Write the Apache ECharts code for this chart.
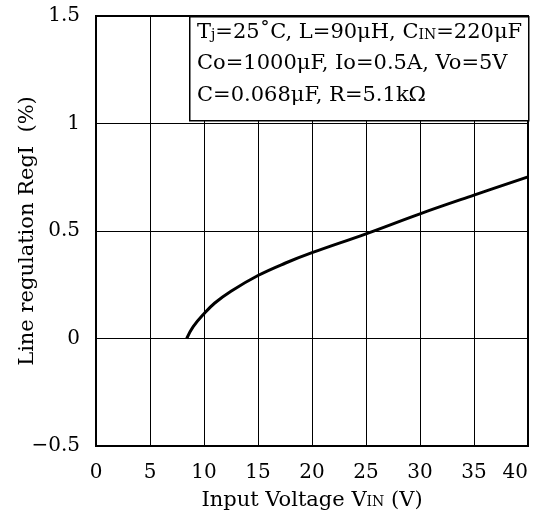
<!DOCTYPE html>
<html><head><meta charset="utf-8">
<script src="https://cdn.jsdelivr.net/npm/echarts@6/dist/echarts.min.js"></script>
<style>html,body{margin:0;padding:0;background:#fff}#c{width:539px;height:519px}</style>
</head><body><div id="c"></div>
<script>
const vin = [8.4, 9, 10, 11, 12.5, 15, 17.5, 20, 25, 30, 35, 40];
const regl = [0, 0.055, 0.115, 0.165, 0.22, 0.293, 0.35, 0.399, 0.487, 0.58, 0.667, 0.752];
const xTicks = [0, 5, 10, 15, 20, 25, 30, 35, 40];
const yTicks = [-0.5, 0, 0.5, 1, 1.5];
const FONT = '"DejaVu Serif", "Liberation Serif", serif';
const chart = echarts.init(document.getElementById('c'), null, {renderer: 'canvas'});
const yLabel = v => (v < 0 ? '\u2212' + Math.abs(v) : String(v));
chart.setOption({
  animation: false,
  grid: {left: 96, right: 11, top: 16, bottom: 73, show: true, borderColor: '#000', borderWidth: 2,
         containLabel: false, outerBoundsMode: 'none'},
  xAxis: {
    type: 'value', min: xTicks[0], max: xTicks[xTicks.length - 1], interval: 5,
    axisLine: {show: false}, axisTick: {show: false},
    splitLine: {show: true, lineStyle: {color: '#000', width: 1}},
    axisLabel: {fontFamily: FONT, fontSize: 20, color: '#000', margin: 17, alignMaxLabel: 'right'},
    name: 'Input Voltage V{s|IN} (V)', nameLocation: 'middle', nameGap: 44, nameMoveOverlap: false,
    nameTextStyle: {fontFamily: FONT, fontSize: 21, color: '#000',
      rich: {s: {fontFamily: FONT, fontSize: 14, color: '#000', padding: [4, 0, 0, 0]}}}
  },
  yAxis: {
    type: 'value', min: yTicks[0], max: yTicks[yTicks.length - 1], interval: 0.5,
    axisLine: {show: false}, axisTick: {show: false},
    splitLine: {show: true, lineStyle: {color: '#000', width: 1}},
    axisLabel: {fontFamily: FONT, fontSize: 20, color: '#000', margin: 16, formatter: yLabel},
    name: 'Line regulation RegI  (%)', nameLocation: 'middle', nameGap: 58, nameMoveOverlap: false,
    nameTextStyle: {fontFamily: FONT, fontSize: 21, color: '#000'}
  },
  series: [{
    type: 'line', data: vin.map((x, i) => [x, regl[i]]), smooth: 0.4, showSymbol: false,
    lineStyle: {color: '#000', width: 3}
  }],
  graphic: [{
    type: 'rect', left: 189, top: 16, z: 10,
    shape: {width: 339, height: 104},
    style: {fill: '#fff', stroke: '#000', lineWidth: 1.5}
  }, {
    type: 'text', left: 197, top: 22, z: 11,
    style: {
      text: '{a|T}{s|j}{a|=25˚C, L=90μH, C}{sc|IN}{a|=220μF}\n{a|Co=1000μF, Io=0.5A, Vo=5V}\n{a|C=0.068μF, R=5.1kΩ}',
      rich: {
        a: {fontFamily: FONT, fontSize: 21, fill: '#000', lineHeight: 31.5},
        s: {fontFamily: FONT, fontSize: 14, fill: '#000', lineHeight: 31.5, padding: [6, 0, 0, 0]},
        sc: {fontFamily: FONT, fontSize: 14, fill: '#000', lineHeight: 31.5, padding: [5, 0, 0, 0]}
      }
    }
  }]
});
</script></body></html>
